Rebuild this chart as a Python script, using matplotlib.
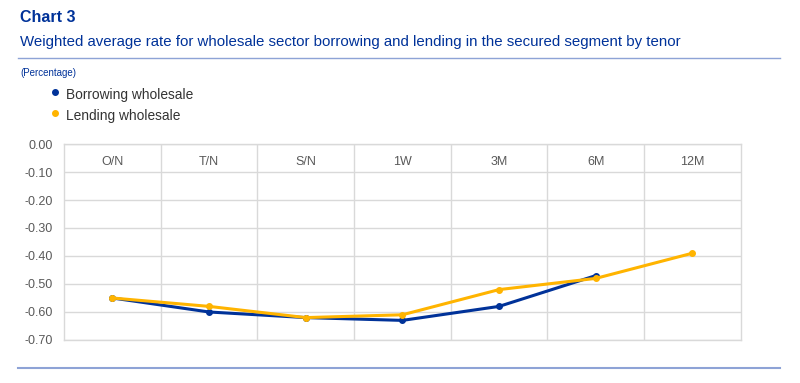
import matplotlib
matplotlib.use("Agg")
import matplotlib.pyplot as plt
from matplotlib.lines import Line2D

plt.rcParams['font.family'] = ['Liberation Sans', 'DejaVu Sans']

categories = ["O/N", "T/N", "S/N", "1W", "3M", "6M", "12M"]
borrowing = [-0.55, -0.60, -0.62, -0.63, -0.58, -0.47]
lending = [-0.55, -0.58, -0.62, -0.61, -0.52, -0.48, -0.39]
yticks = [0.0, -0.1, -0.2, -0.3, -0.4, -0.5, -0.6, -0.7]

BLUE = "#003299"
YELLOW = "#FFB400"
RULE = "#8EA3D6"
GRID = "#D9D9D9"

fig = plt.figure(figsize=(8, 3.83), dpi=100)
ax = fig.add_axes([0.08, 0.1123, 0.846, 0.5117])

x = list(range(len(categories)))
ax.plot(x[:len(borrowing)], borrowing, color=BLUE, lw=2.2, marker='o', ms=4, zorder=3)
ax.plot(x, lending, color=YELLOW, lw=2.2, marker='o', ms=4, zorder=4)

ax.set_xlim(-0.5, len(categories) - 0.5)
ax.set_ylim(-0.7, 0.0)
ax.set_yticks(yticks)
ax.set_yticklabels([f"{v:.2f}" for v in yticks])
ax.set_xticks(x)
ax.set_xticklabels(categories)
ax.xaxis.tick_top()
ax.tick_params(axis='x', length=0, pad=-17, labelsize=9, labelcolor="#595959")
ax.tick_params(axis='y', length=0, pad=8, labelsize=9, labelcolor="#595959")

ax.grid(False)
for v in yticks:
    ax.axhline(v, color=GRID, lw=1, zorder=1)
for b in range(1, len(categories)):
    ax.axvline(b - 0.5, color=GRID, lw=1, zorder=1)
for s in ax.spines.values():
    s.set_color(GRID)
    s.set_linewidth(1)

fig.text(20/800, 1 - 17/383, "Chart 3", fontsize=11.5, fontweight='bold', color=BLUE, va='center')
fig.text(20/800, 1 - 42/383,
         "Weighted average rate for wholesale sector borrowing and lending in the secured segment by tenor",
         fontsize=10.8, color=BLUE, va='center')
fig.add_artist(Line2D([18/800, 780/800], [1 - 58/383, 1 - 58/383], color=RULE, lw=1))
fig.add_artist(Line2D([18/800, 780/800], [1 - 368/383, 1 - 368/383], color=RULE, lw=1.5))
fig.text(20/800, 1 - 73/383, "(Percentage)", fontsize=7, color=BLUE, va='center')

for yy, col, lab in [(95, BLUE, "Borrowing wholesale"), (116, YELLOW, "Lending wholesale")]:
    fig.add_artist(Line2D([55/800], [1 - (yy - 3)/383], marker='o', ms=4, color=col, lw=0))
    fig.text(66/800, 1 - yy/383, lab, fontsize=9.9, color="#333333", va='center')

fig.savefig("out.png", dpi=100)
